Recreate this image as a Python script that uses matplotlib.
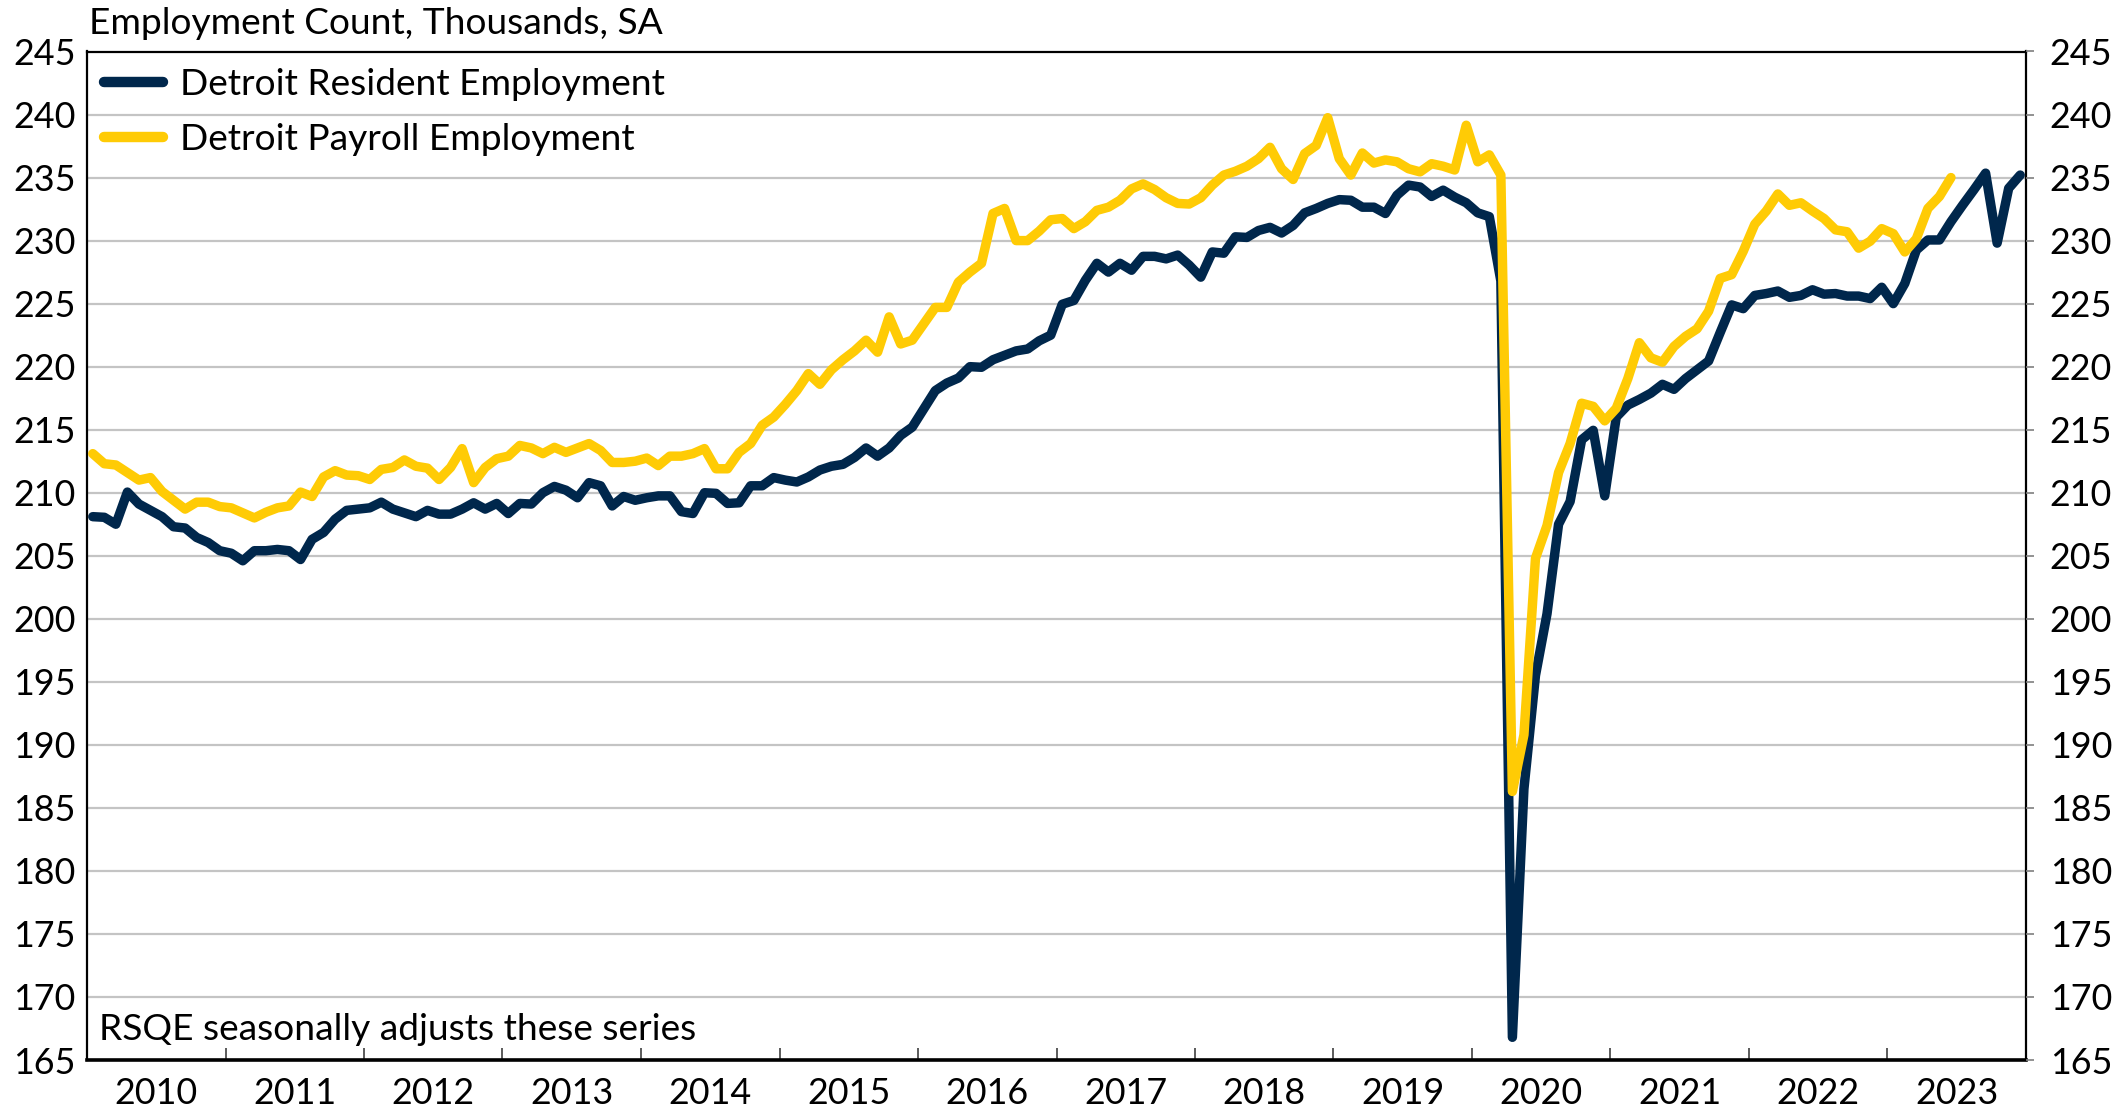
import matplotlib
matplotlib.use("Agg")
import matplotlib.pyplot as plt
from matplotlib.ticker import FixedLocator, NullFormatter
import numpy as np

plt.rcParams['font.family'] = ['Lato', 'DejaVu Sans']

# ---- data (thousands, SA), monthly from Jan 2010 ----
years = list(range(2010, 2024))

resident = [
    # 2010
    208.1, 208.05, 207.5, 210.05, 209.1, 208.6, 208.1, 207.3, 207.2, 206.45, 206.05, 205.4,
    # 2011
    205.2, 204.6, 205.4, 205.4, 205.5, 205.4, 204.7, 206.3, 206.85, 207.9, 208.6, 208.7,
    # 2012
    208.8, 209.25, 208.7, 208.4, 208.1, 208.6, 208.3, 208.3, 208.7, 209.2, 208.7, 209.15,
    # 2013
    208.35, 209.15, 209.1, 210.0, 210.5, 210.2, 209.6, 210.8, 210.55, 208.95, 209.7, 209.4,
    # 2014
    209.6, 209.75, 209.75, 208.5, 208.35, 210.0, 209.95, 209.15, 209.2, 210.55, 210.55, 211.2,
    # 2015
    211.0, 210.85, 211.25, 211.8, 212.1, 212.25, 212.8, 213.55, 212.9, 213.55, 214.55, 215.2,
    # 2016
    216.65, 218.1, 218.7, 219.1, 220.0, 219.95, 220.55, 220.9, 221.25, 221.4, 222.05, 222.5,
    # 2017
    224.95, 225.25, 226.85, 228.2, 227.5, 228.2, 227.65, 228.75, 228.75, 228.55, 228.85, 228.05,
    # 2018
    227.1, 229.1, 229.0, 230.3, 230.25, 230.8, 231.05, 230.6, 231.2, 232.2, 232.55, 232.95,
    # 2019
    233.25, 233.2, 232.65, 232.65, 232.15, 233.6, 234.4, 234.25, 233.5, 234.0, 233.45, 233.0,
    # 2020
    232.2, 231.9, 226.8, 166.8, 186.5, 195.5, 200.4, 207.5, 209.3, 214.2, 214.95, 209.75,
    # 2021
    216.0, 216.95, 217.4, 217.9, 218.6, 218.2, 219.05, 219.75, 220.45, 222.7, 224.9, 224.6,
    # 2022
    225.65, 225.8, 226.0, 225.5, 225.65, 226.1, 225.75, 225.8, 225.6, 225.6, 225.4, 226.3,
    # 2023
    225.0, 226.6, 229.25, 230.05, 230.05, 231.5, 232.8, 234.05, 235.35, 229.8, 234.15, 235.2,
]

payroll = [
    # 2010
    213.1, 212.3, 212.2, 211.6, 211.0, 211.2, 210.1, 209.4, 208.7, 209.25, 209.25, 208.9,
    # 2011
    208.8, 208.4, 208.0, 208.45, 208.8, 208.95, 210.05, 209.7, 211.25, 211.75, 211.4, 211.35,
    # 2012
    211.05, 211.85, 212.0, 212.6, 212.1, 211.95, 211.05, 212.0, 213.5, 210.8, 212.0, 212.7,
    # 2013
    212.9, 213.75, 213.55, 213.1, 213.6, 213.2, 213.55, 213.9, 213.35, 212.4, 212.4, 212.5,
    # 2014
    212.75, 212.15, 212.9, 212.9, 213.1, 213.5, 211.9, 211.9, 213.2, 213.9, 215.35, 216.0,
    # 2015
    217.0, 218.1, 219.45, 218.6, 219.75, 220.55, 221.25, 222.1, 221.15, 223.95, 221.8, 222.1,
    # 2016
    223.4, 224.7, 224.7, 226.7, 227.5, 228.2, 232.15, 232.55, 230.0, 230.0, 230.75, 231.65,
    # 2017
    231.75, 230.95, 231.5, 232.4, 232.65, 233.2, 234.1, 234.5, 234.05, 233.4, 232.95, 232.9,
    # 2018
    233.4, 234.4, 235.2, 235.5, 235.9, 236.5, 237.4, 235.7, 234.85, 236.9, 237.55, 239.75,
    # 2019
    236.5, 235.2, 236.95, 236.15, 236.4, 236.25, 235.7, 235.45, 236.1, 235.9, 235.6, 239.15,
    # 2020
    236.25, 236.8, 235.2, 186.3, 190.8, 204.8, 207.4, 211.6, 213.9, 217.1, 216.85, 215.7,
    # 2021
    216.7, 219.05, 221.9, 220.7, 220.35, 221.6, 222.4, 223.0, 224.4, 227.0, 227.3, 229.15,
    # 2022
    231.3, 232.35, 233.7, 232.8, 233.0, 232.35, 231.75, 230.85, 230.7, 229.4, 229.95, 230.95,
    # 2023
    230.55, 229.1, 230.15, 232.55, 233.5, 235.0,
]

y_ticks = list(range(165, 250, 5))

title_text = "Employment Count, Thousands, SA"
note_text = "RSQE seasonally adjusts these series"
label_res = "Detroit Resident Employment"
label_pay = "Detroit Payroll Employment"

NAVY = "#00274C"
MAIZE = "#FFCB05"
FS_TEXT = 26.7
FS_TICK = 25.8

# ---- figure ----
W, H = 2126, 1110
fig = plt.figure(figsize=(W / 100, H / 100), dpi=100)
left, right, top, bottom = 87 / W, 2026 / W, 1 - 51.5 / H, 1 - 1060 / H
ax = fig.add_axes([left, bottom, right - left, top - bottom])

x_res = np.arange(len(resident))
x_pay = np.arange(len(payroll))
n_months = len(years) * 12

ax.plot(x_res, resident, color=NAVY, lw=6.8, solid_joinstyle='round',
        solid_capstyle='round', label=label_res, zorder=3)
ax.plot(x_pay, payroll, color=MAIZE, lw=6.8, solid_joinstyle='round',
        solid_capstyle='round', label=label_pay, zorder=4)

ax.set_xlim(-0.5, n_months - 0.5)
ax.set_ylim(y_ticks[0], y_ticks[-1])

# y axis
ax.set_yticks(y_ticks)
ax.set_yticklabels([str(v) for v in y_ticks])
ax.tick_params(axis='y', which='major', length=0, pad=8, labelsize=FS_TICK)
ax.grid(axis='y', color='#C4C4C4', lw=1.6, zorder=0)
ax.set_axisbelow(True)

# x axis: ticks at year boundaries, labels at year centers
boundaries = [12 * k - 0.5 for k in range(1, len(years))]
centers = [12 * k + 5.5 for k in range(len(years))]
ax.xaxis.set_major_locator(FixedLocator(boundaries))
ax.xaxis.set_major_formatter(NullFormatter())
ax.xaxis.set_minor_locator(FixedLocator(centers))
ax.set_xticklabels([str(y) for y in years], minor=True)
ax.tick_params(axis='x', which='major', direction='in', length=9, width=1.2, color='#404040')
ax.tick_params(axis='x', which='minor', length=0, pad=12, labelsize=FS_TICK)

for s in ax.spines.values():
    s.set_color('black')
    s.set_linewidth(1.6)
ax.spines['bottom'].set_linewidth(2.6)

# right axis
ax2 = ax.twinx()
ax2.set_ylim(y_ticks[0], y_ticks[-1])
ax2.set_yticks(y_ticks)
ax2.set_yticklabels([str(v) for v in y_ticks])
ax2.tick_params(axis='y', length=6, width=1.2, color='#7F7F7F', pad=11, labelsize=FS_TICK)
for s in ax2.spines.values():
    s.set_visible(False)

# legend
leg = ax.legend(loc='upper left', bbox_to_anchor=(0.0, 1.0), frameon=False,
                fontsize=FS_TEXT, handlelength=1.6, handletextpad=0.45,
                labelspacing=0.6, borderaxespad=0.0, borderpad=0.45)
for ln in leg.get_lines():
    ln.set_linewidth(7.5)
    ln.set_solid_capstyle('round')

# title & note
fig.text(89 / W, 1 - 23 / H, title_text, fontsize=FS_TEXT, ha='left', va='center')
ax.text(0.006, 0.03, note_text, transform=ax.transAxes, fontsize=FS_TEXT,
        ha='left', va='center')

fig.savefig("out.png", dpi=100)
